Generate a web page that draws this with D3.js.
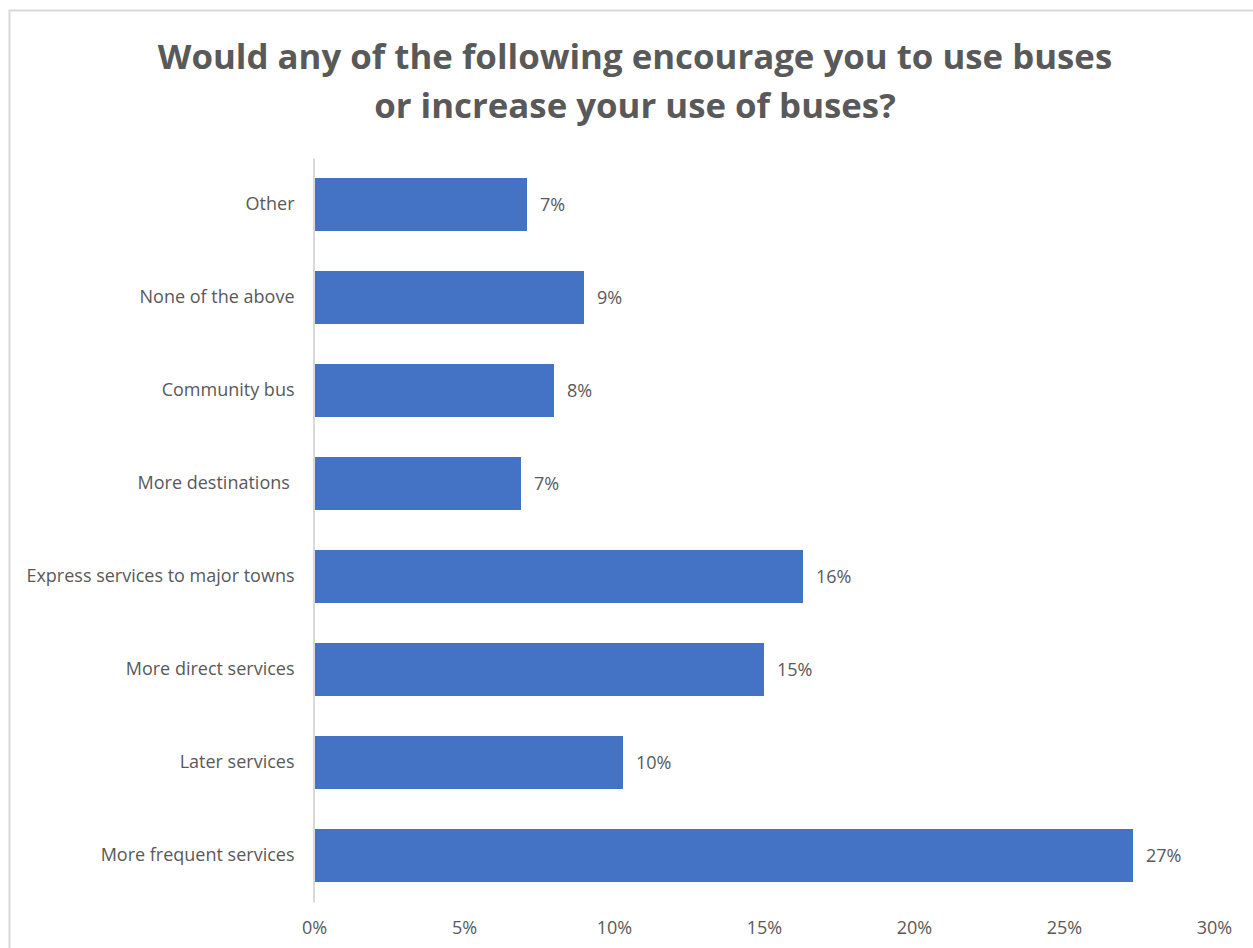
<!DOCTYPE html>
<html><head><meta charset="utf-8">
<script src="https://cdn.jsdelivr.net/npm/d3@7"></script>
<style>
html,body{margin:0;padding:0;background:#fff;}
text{font-family:"Open Sans","Noto Sans",sans-serif;fill:#595959;white-space:pre;}
</style></head>
<body>
<svg id="chart" width="1253" height="948"></svg>
<script>
const categories = ["Other","None of the above","Community bus","More destinations ","Express services to major towns","More direct services","Later services","More frequent services"];
const values = [7.1, 9.0, 8.0, 6.9, 16.3, 15.0, 10.3, 27.3];
const valueLabels = ["7%","9%","8%","7%","16%","15%","10%","27%"];
const xTicks = [0,5,10,15,20,25,30];
const titleLines = ["Would any of the following encourage you to use buses","or increase your use of buses?"];

const svg = d3.select("#chart");
svg.append("rect").attr("x",9.5).attr("y",10.5).attr("width",1260).attr("height",960)
  .attr("fill","#fff").attr("stroke","#d9d9d9").attr("stroke-width",2);

const x = d3.scaleLinear().domain([0,30]).range([314,1214]);
const y = d3.scaleBand().domain(categories).range([158,902]).paddingInner(0.43).paddingOuter(0.215);

// title
const t = svg.append("g");
titleLines.forEach((s,i)=>{
  t.append("text").attr("x",635).attr("y",69+i*49).attr("text-anchor","middle")
   .style("font-size","34.8px").style("font-weight","700").text(s);
});

const fs = "18px";
// bars
svg.append("g").selectAll("rect").data(values).join("rect")
  .attr("x",x(0)).attr("y",(d,i)=>y(categories[i]))
  .attr("width",d=>x(d)-x(0)).attr("height",y.bandwidth())
  .attr("fill","#4472C4");

// value labels
svg.append("g").selectAll("text").data(values).join("text")
  .attr("x",d=>x(d)+13).attr("y",(d,i)=>y(categories[i])+y.bandwidth()/2)
  .attr("dy","0.35em").style("font-size",fs).text((d,i)=>valueLabels[i]);

// y axis
const yAxis = d3.axisLeft(y).tickSize(0).tickPadding(19);
const gy = svg.append("g").attr("transform",`translate(${x(0)-0.5},0)`).call(yAxis);
gy.select(".domain").attr("stroke","#d9d9d9").attr("stroke-width",2);
gy.selectAll("text").style("font-size",fs).attr("fill",null);

// x axis labels
const xAxis = d3.axisBottom(x).tickValues(xTicks).tickFormat(d=>d+"%").tickSize(0).tickPadding(19);
const gx = svg.append("g").attr("transform","translate(0,902)").call(xAxis);
gx.select(".domain").remove();
gx.selectAll("text").style("font-size",fs).attr("fill",null);
svg.selectAll("g").attr("font-family",null).attr("font-size",null);
</script>
</body></html>
